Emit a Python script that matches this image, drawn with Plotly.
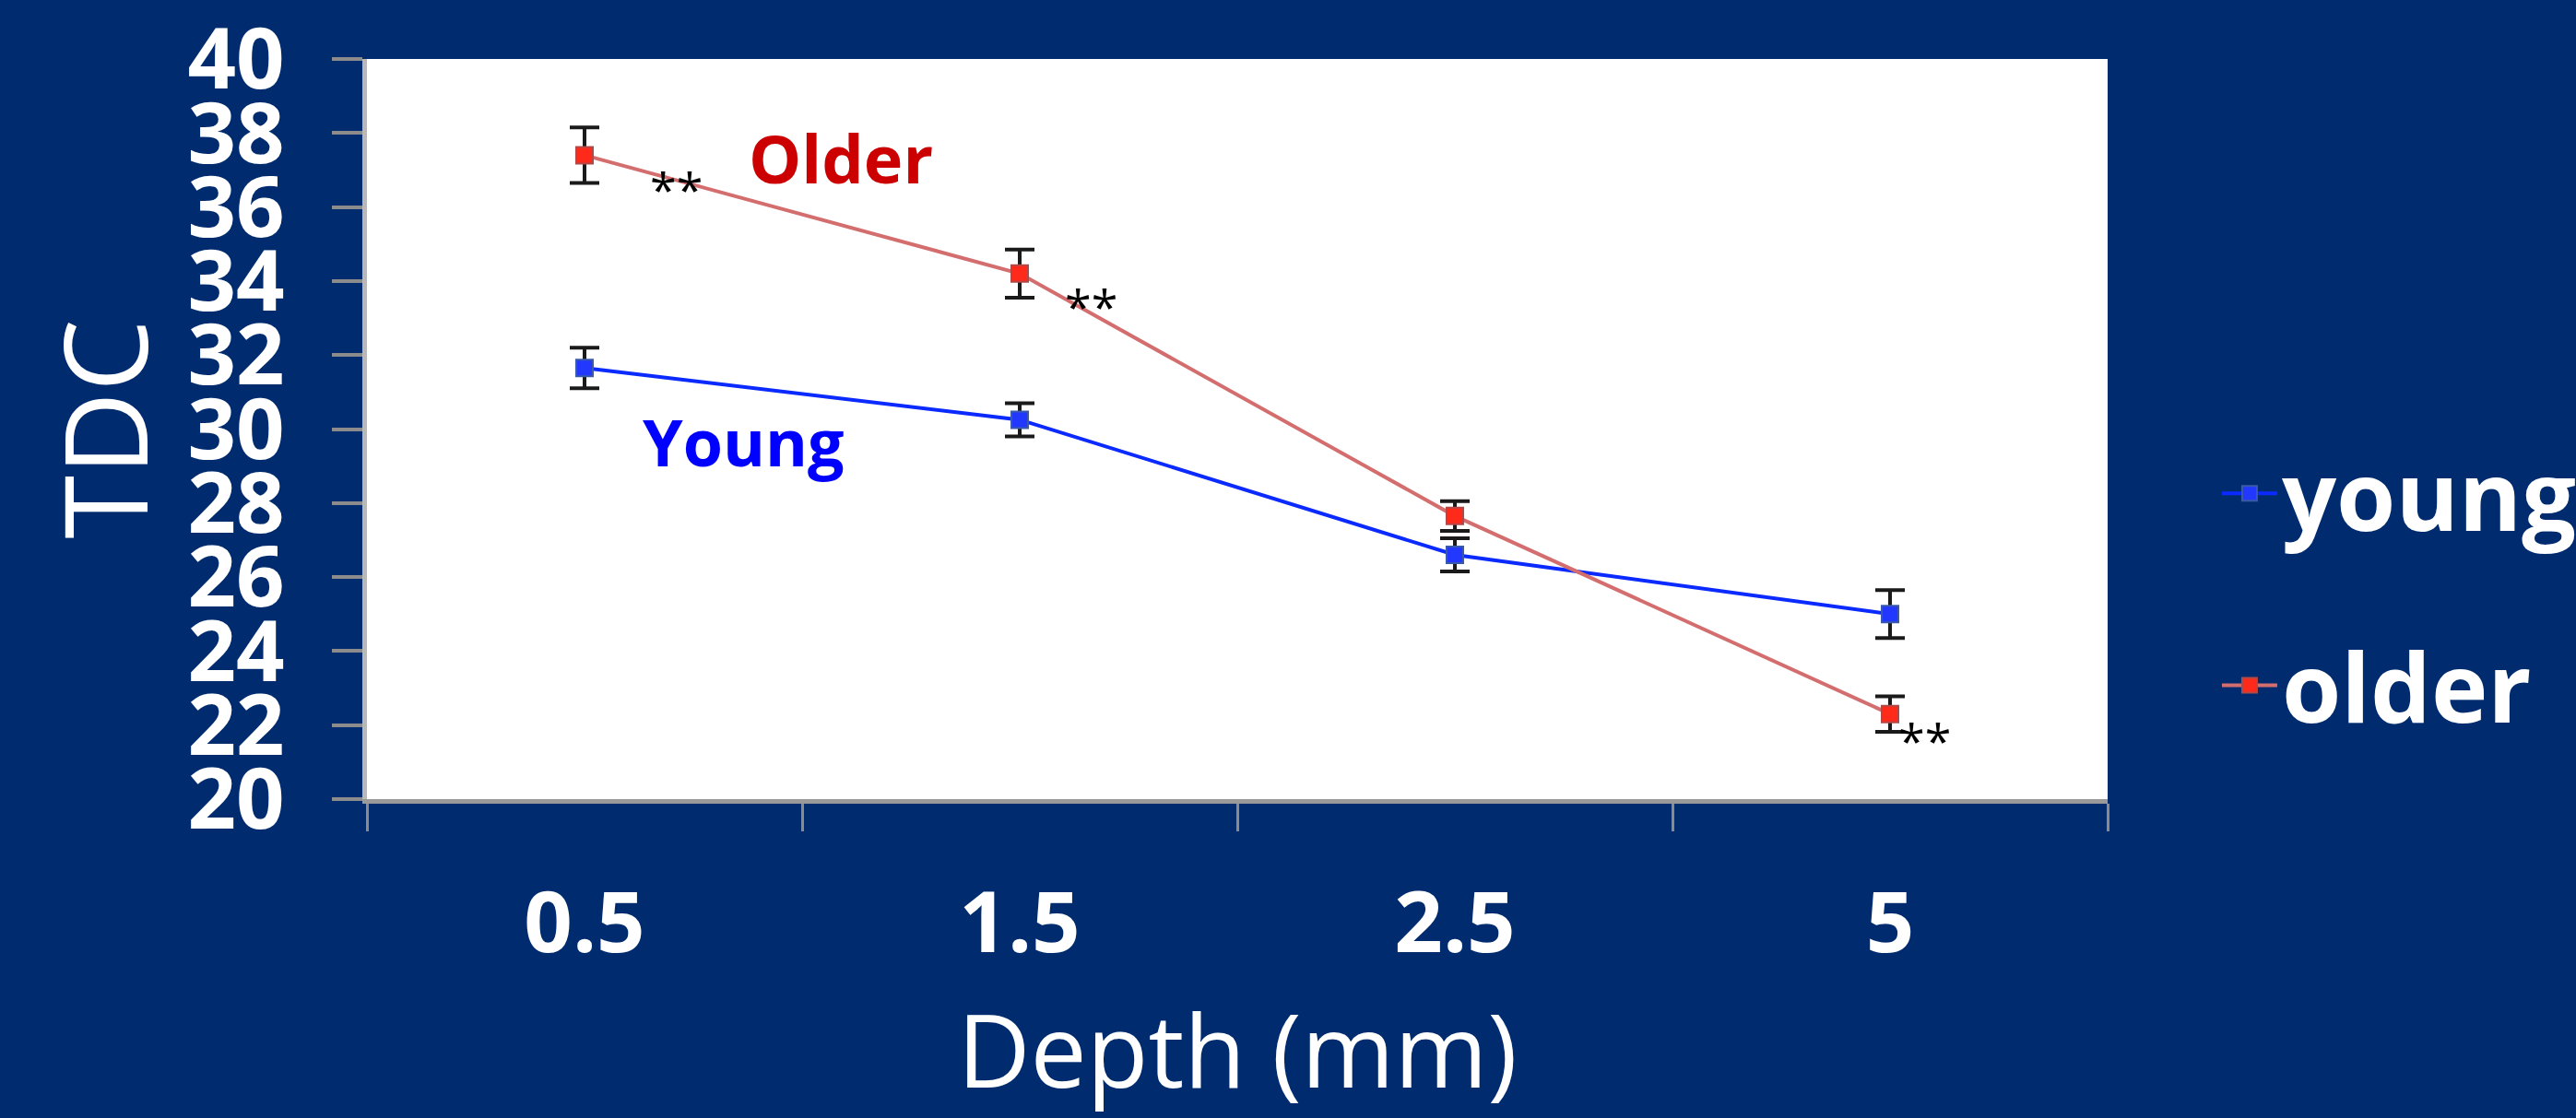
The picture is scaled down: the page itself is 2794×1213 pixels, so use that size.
import plotly.graph_objects as go

depth = ["0.5", "1.5", "2.5", "5"]
young = [31.65, 30.25, 26.6, 25.0]
young_err = [0.55, 0.45, 0.45, 0.65]
older = [37.4, 34.2, 27.65, 22.3]
older_err = [0.75, 0.65, 0.4, 0.48]
y_ticks = list(range(20, 41, 2))

BG = "#002c6f"
FONT = "Open Sans"

fig = go.Figure()
fig.add_trace(go.Scatter(
    x=depth, y=young, name="young", mode="lines+markers",
    line=dict(color="#0a2aff", width=4),
    marker=dict(symbol="square", size=18, color="#2238ff", line=dict(color="#3a5aa8", width=2)),
    error_y=dict(type="data", array=young_err, visible=True, color="#1a1a1a", thickness=4, width=16),
    legendgroup="a",
))
fig.add_trace(go.Scatter(
    x=depth, y=older, name="older", mode="lines+markers",
    line=dict(color="#d46e6e", width=4),
    marker=dict(symbol="square", size=18, color="#ff2a1a", line=dict(color="#b04848", width=2)),
    error_y=dict(type="data", array=older_err, visible=True, color="#1a1a1a", thickness=4, width=16),
    legendgroup="b",
))

annotations = [
    dict(x=0.59, y=37.33, text="<b>Older</b>", font=dict(family=FONT, size=72, color="#cc0000")),
    dict(x=0.366, y=29.67, text="<b>Young</b>", font=dict(family=FONT, size=70, color="#0000ff")),
    dict(x=0.21, y=36.5, text="**", font=dict(family=FONT, size=52, color="black")),
    dict(x=1.165, y=33.35, text="**", font=dict(family=FONT, size=52, color="black")),
    dict(x=3.08, y=21.6, text="**", font=dict(family=FONT, size=52, color="black")),
]
for a in annotations:
    a.update(xref="x", yref="y", showarrow=False, xanchor="center", yanchor="middle")

annotations.append(dict(
    xref="paper", yref="paper", x=-0.152, y=0.5, text="TDC", textangle=-90,
    showarrow=False, xanchor="center", yanchor="middle",
    font=dict(family=FONT, size=125, color="white"),
))

fig.update_layout(
    width=2794, height=1213,
    paper_bgcolor=BG, plot_bgcolor="white",
    margin=dict(l=398, r=508, t=64, b=346, autoexpand=False),
    font=dict(family=FONT, color="white"),
    annotations=annotations,
    showlegend=True,
    legend=dict(x=1.063, y=0.283, xanchor="left", yanchor="middle",
                font=dict(family=FONT, size=104, color="white", weight="bold"),
                bgcolor="rgba(0,0,0,0)", tracegroupgap=70, itemwidth=60),
    xaxis=dict(
        type="category", categoryorder="array", categoryarray=depth,
        range=[-0.5, 3.5], tickson="boundaries",
        ticks="outside", ticklen=30, tickwidth=3, tickcolor="#8a8a8a",
        showline=True, linecolor="#9a9a9a", linewidth=5,
        showgrid=False, zeroline=False, automargin=False,
        tickfont=dict(family=FONT, size=92, color="white", weight="bold"),
        ticklabelstandoff=51, ticklabeloverflow="allow",
        title=dict(text="Depth (mm)", font=dict(family=FONT, size=109, color="white"), standoff=46),
    ),
    yaxis=dict(
        range=[20, 40], tickmode="array", tickvals=y_ticks,
        ticks="outside", ticklen=33, tickwidth=4, tickcolor="#8c8c8c",
        showline=True, linecolor="#b8b8b8", linewidth=5,
        showgrid=False, zeroline=False, automargin=False,
        tickfont=dict(family=FONT, size=92, color="white", weight="bold"),
        ticklabelstandoff=33, ticklabeloverflow="allow",
    ),
)

fig.write_html("out.html", config={"displayModeBar": False},
               post_script="document.body.style.margin='0';document.body.style.overflow='hidden';")
